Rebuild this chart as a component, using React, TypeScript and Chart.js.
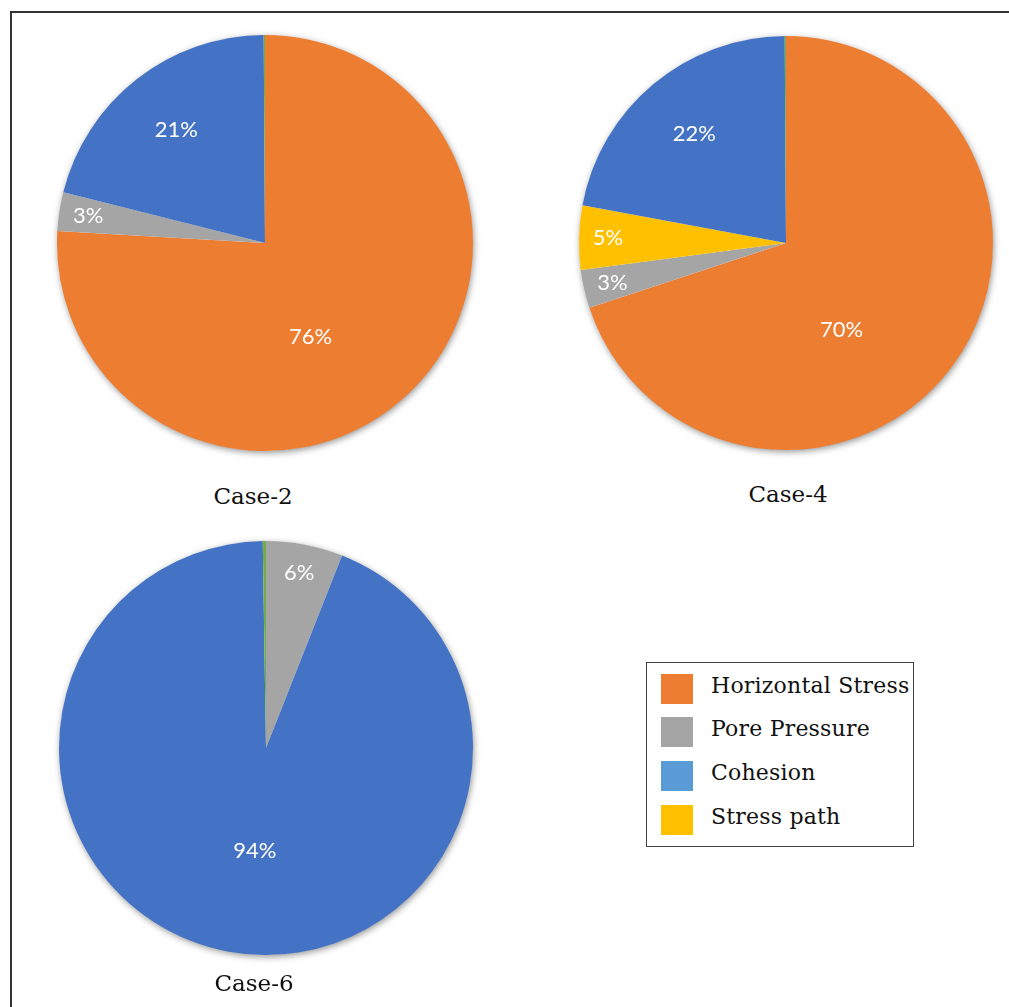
import React, { useEffect, useRef } from "react";
import { Chart, registerables } from "chart.js";

Chart.register(...registerables);

// ---- data ----
const sliceCategories = ["Horizontal Stress", "Pore Pressure", "Stress path", "Cohesion", "Other"];
const sliceColors = ["#ED7D31", "#A5A5A5", "#FFC000", "#4472C4", "#70AD47"];
const case2Values = [76, 3, 0, 21, 0.1];
const case4Values = [70, 3, 5, 22, 0.1];
const case6Values = [0, 6, 0, 94, 0.25];
const caseTitles = ["Case-2", "Case-4", "Case-6"];
const legendLabels = ["Horizontal Stress", "Pore Pressure", "Cohesion", "Stress path"];
const legendColors = ["#ED7D31", "#A5A5A5", "#5B9BD5", "#FFC000"];

const CANVAS = 460;

const shadowPlugin = {
  id: "pieShadow",
  beforeDatasetsDraw(chart: any) {
    const meta = chart.getDatasetMeta(0);
    const arc = meta.data[0];
    if (!arc) return;
    const { x, y, outerRadius } = arc.getProps(["x", "y", "outerRadius"], true);
    const ctx = chart.ctx;
    ctx.save();
    ctx.shadowColor = "rgba(0,0,0,0.45)";
    ctx.shadowBlur = 7;
    ctx.shadowOffsetX = 1;
    ctx.shadowOffsetY = 2;
    ctx.beginPath();
    ctx.arc(x, y, outerRadius - 0.5, 0, Math.PI * 2);
    ctx.fillStyle = "#ffffff";
    ctx.fill();
    ctx.restore();
  },
};

const labelPlugin = {
  id: "pieLabels",
  afterDatasetsDraw(chart: any) {
    const meta = chart.getDatasetMeta(0);
    const data = chart.data.datasets[0].data as number[];
    const total = data.reduce((a, b) => a + b, 0);
    const ctx = chart.ctx;
    ctx.save();
    ctx.fillStyle = "#ffffff";
    ctx.font = "400 22px Lato";
    ctx.textAlign = "center";
    ctx.textBaseline = "middle";
    meta.data.forEach((el: any, i: number) => {
      const v = data[i];
      const pct = Math.round((v / total) * 100);
      if (pct < 1) return;
      const { x, y, startAngle, endAngle, outerRadius } = el.getProps(
        ["x", "y", "startAngle", "endAngle", "outerRadius"],
        true
      );
      let mid = (startAngle + endAngle) / 2;
      const share = v / total;
      let f = 0.86;
      if (share > 0.5) {
        // large slices: label pulled toward the lower centre (best-fit placement)
        mid = mid + 0.4 * (Math.PI / 2 - mid);
        f = 0.5;
      } else if (share > 0.1) {
        f = 0.69;
      }
      ctx.fillText(pct + "%", x + Math.cos(mid) * outerRadius * f, y + Math.sin(mid) * outerRadius * f);
    });
    ctx.restore();
  },
};

function Pie({ values, radius, left, top }: { values: number[]; radius: number; left: number; top: number }) {
  const ref = useRef<HTMLCanvasElement>(null);
  useEffect(() => {
    if (!ref.current) return;
    const pad = CANVAS / 2 - radius;
    const chart = new Chart(ref.current, {
      type: "pie",
      data: {
        labels: sliceCategories,
        datasets: [
          {
            data: values,
            backgroundColor: sliceColors,
            borderWidth: 0,
          },
        ],
      },
      options: {
        responsive: false,
        animation: false,
        layout: { padding: pad },
        plugins: {
          legend: { display: false },
          tooltip: { enabled: false },
          title: { display: false },
        },
      },
      plugins: [shadowPlugin, labelPlugin],
    });
    return () => chart.destroy();
  }, [values, radius]);
  return (
    <canvas
      ref={ref}
      width={CANVAS}
      height={CANVAS}
      style={{ position: "absolute", left, top, width: CANVAS, height: CANVAS }}
    />
  );
}

const titleStyle: React.CSSProperties = {
  position: "absolute",
  width: 200,
  textAlign: "center",
  fontFamily: "'DejaVu Serif', serif",
  fontSize: 23,
  lineHeight: "23px",
  color: "#111",
  whiteSpace: "nowrap",
};

export default function App() {
  const rowTops = [674, 717, 761, 805];
  return (
    <div
      style={{
        position: "fixed",
        left: 0,
        top: 0,
        width: 1009,
        height: 1007,
        overflow: "hidden",
        background: "#fff",
      }}
    >
      <div
        style={{
          position: "absolute",
          left: 10,
          top: 11,
          width: 1100,
          height: 1100,
          borderLeft: "2px solid #333",
          borderTop: "2px solid #333",
        }}
      />
      <Pie values={case2Values} radius={208} left={265 - CANVAS / 2} top={243 - CANVAS / 2} />
      <Pie values={case4Values} radius={207} left={786 - CANVAS / 2} top={243 - CANVAS / 2} />
      <Pie values={case6Values} radius={207} left={266 - CANVAS / 2} top={748 - CANVAS / 2} />

      <div style={{ ...titleStyle, left: 253 - 100, top: 485 }}>{caseTitles[0]}</div>
      <div style={{ ...titleStyle, left: 788 - 100, top: 483 }}>{caseTitles[1]}</div>
      <div style={{ ...titleStyle, left: 254 - 100, top: 972 }}>{caseTitles[2]}</div>

      <div
        style={{
          position: "absolute",
          left: 646,
          top: 662,
          width: 266,
          height: 183,
          border: "1.5px solid #444",
        }}
      />
      {legendLabels.map((lab, i) => (
        <React.Fragment key={lab}>
          <div
            style={{
              position: "absolute",
              left: 661,
              top: rowTops[i],
              width: 32,
              height: 30,
              background: legendColors[i],
            }}
          />
          <div
            style={{
              position: "absolute",
              left: 711,
              top: rowTops[i] - 3,
              height: 30,
              lineHeight: "30px",
              fontFamily: "'DejaVu Serif', serif",
              fontSize: 22,
              letterSpacing: 0.2,
              color: "#111",
              whiteSpace: "nowrap",
            }}
          >
            {lab}
          </div>
        </React.Fragment>
      ))}
    </div>
  );
}
